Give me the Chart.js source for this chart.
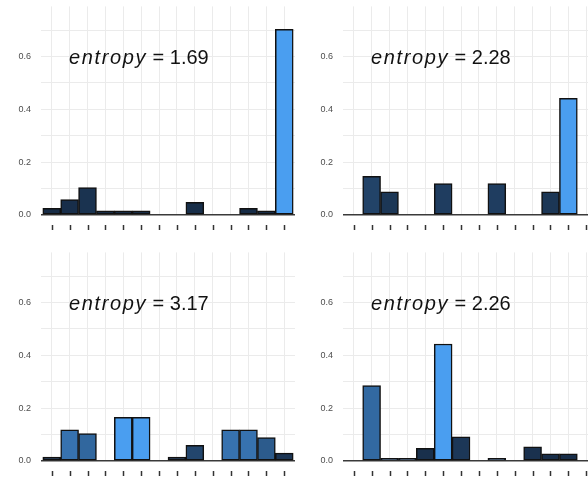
<!DOCTYPE html>
<html>
<head>
<meta charset="utf-8">
<script src="https://cdn.jsdelivr.net/npm/chart.js@4.4.1/dist/chart.umd.min.js"></script>
<style>
    body { margin: 0; background: #fff; width: 588px; height: 479px; overflow: hidden; position: relative; }
    .panel { position: absolute; width: 300px; height: 249px; }
</style>
</head>
<body>
<div class="panel" style="left:0px;top:-9px"><canvas id="c1" width="300" height="249"></canvas></div>
<div class="panel" style="left:302px;top:-9px"><canvas id="c2" width="300" height="249"></canvas></div>
<div class="panel" style="left:0px;top:237px"><canvas id="c3" width="300" height="249"></canvas></div>
<div class="panel" style="left:302px;top:237px"><canvas id="c4" width="300" height="249"></canvas></div>
<script>
// Data
const bins = [0, 1, 2, 3, 4, 5, 6, 7, 8, 9, 10, 11, 12, 13];
const panel1 = [0.025, 0.058, 0.104, 0.016, 0.016, 0.016, 0, 0, 0.048, 0, 0, 0.025, 0.016, 0.703];
const panel2 = [0, 0.146, 0.088, 0, 0, 0.119, 0, 0, 0.119, 0, 0, 0.088, 0.442, 0];
const panel3 = [0.015, 0.118, 0.104, 0, 0.165, 0.165, 0, 0.015, 0.059, 0, 0.118, 0.118, 0.089, 0.030];
const panel4 = [0, 0.286, 0.01, 0.01, 0.048, 0.443, 0.092, 0, 0.01, 0, 0.054, 0.027, 0.027, 0];
const entropies = ['1.69', '2.28', '3.17', '2.26'];
const yTicks = [0, 0.2, 0.4, 0.6];

// Colour scale (dark navy -> light blue)
const LOW = [23, 43, 69];
const HIGH = [74, 158, 240];

function fillFor(v, max) {
    const t = Math.pow(v / max, 1.42);
    const c = LOW.map((l, i) => Math.round(l + (HIGH[i] - l) * t));
    return `rgb(${c[0]},${c[1]},${c[2]})`;
}

// Draws the entropy label and the detached x tick marks
const extras = {
    id: 'extras',
    afterDraw(chart) {
        const ctx = chart.ctx;
        const xs = chart.scales.x;
        const ys = chart.scales.y;
        const bottom = chart.chartArea.bottom;

        ctx.save();
        ctx.strokeStyle = '#333';
        ctx.lineWidth = 1.5;
        bins.forEach(b => {
            const px = Math.round(xs.getPixelForValue(b)) + 0.5;
            ctx.beginPath();
            ctx.moveTo(px, bottom + 10);
            ctx.lineTo(px, bottom + 15);
            ctx.stroke();
        });

        const label = chart.options.plugins.extras.entropy;
        const x = xs.getPixelForValue(0.97);
        const y = ys.getPixelForValue(0.6) + 7;
        ctx.fillStyle = '#111';
        ctx.textBaseline = 'alphabetic';
        ctx.textAlign = 'left';
        ctx.font = 'italic 20px "Liberation Sans", Arial, sans-serif';
        ctx.letterSpacing = '1.6px';
        ctx.fillText('entropy', x, y);
        const w = ctx.measureText('entropy').width;
        ctx.letterSpacing = '0px';
        ctx.font = '20px "Liberation Sans", Arial, sans-serif';
        ctx.fillText(' = ' + label, x + w, y);
        ctx.restore();
    }
};

function makePanel(id, values, entropy) {
    const max = Math.max(...values);
    new Chart(document.getElementById(id), {
        type: 'bar',
        data: {
            datasets: [{
                data: bins.map((b, i) => ({ x: b, y: values[i] })),
                backgroundColor: values.map(v => fillFor(v, max)),
                borderColor: '#111',
                borderWidth: 1.5,
                borderSkipped: false,
                categoryPercentage: 1,
                barPercentage: 1
            }]
        },
        options: {
            responsive: false,
            animation: false,
            devicePixelRatio: 1,
            layout: { padding: { top: 6, bottom: 25, left: 0, right: 5 } },
            plugins: {
                legend: { display: false },
                tooltip: { enabled: false },
                extras: { entropy: entropy }
            },
            scales: {
                x: {
                    type: 'linear',
                    offset: false,
                    min: -0.6,
                    max: 13.6,
                    afterBuildTicks: s => { s.ticks = bins.map(b => ({ value: b })); },
                    ticks: { display: false },
                    grid: { offset: false, color: '#ebebeb', lineWidth: 1, drawTicks: false },
                    border: { display: false }
                },
                y: {
                    min: 0,
                    max: 0.79,
                    afterBuildTicks: s => {
                        s.ticks = [0, 1, 2, 3, 4, 5, 6, 7].map(k => ({ value: k / 10 }));
                    },
                    afterFit: s => { s.width = 41; },
                    ticks: {
                        padding: 10,
                        color: '#4d4d4d',
                        font: { family: '"Liberation Sans", Arial, sans-serif', size: 9 },
                        callback: v => yTicks.some(t => Math.abs(t - v) < 1e-6) ? v.toFixed(1) : ''
                    },
                    grid: {
                        drawTicks: false,
                        color: c => Math.abs(c.tick.value) < 1e-6 ? '#3a3a3a' : '#ebebeb',
                        lineWidth: c => Math.abs(c.tick.value) < 1e-6 ? 1.5 : 1
                    },
                    border: { display: false }
                }
            }
        },
        plugins: [extras]
    });
}

makePanel('c1', panel1, entropies[0]);
makePanel('c2', panel2, entropies[1]);
makePanel('c3', panel3, entropies[2]);
makePanel('c4', panel4, entropies[3]);
</script>
</body>
</html>
